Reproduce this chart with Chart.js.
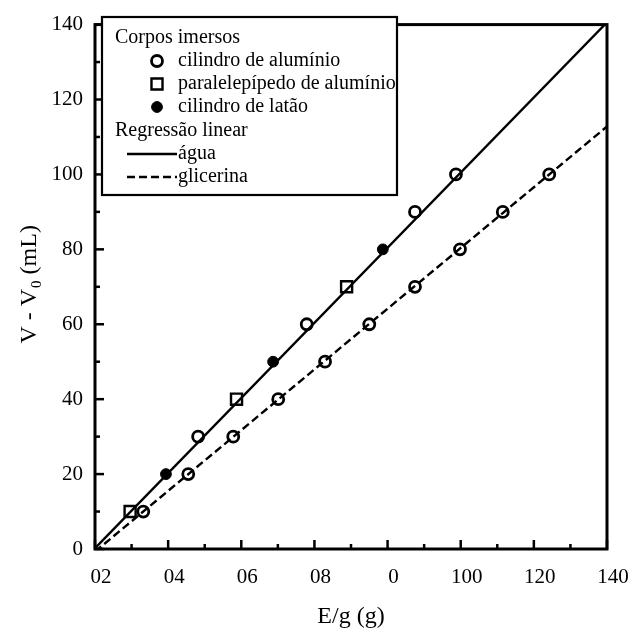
<!DOCTYPE html>
<html>
<head>
<meta charset="utf-8">
<script src="https://cdn.jsdelivr.net/npm/chart.js@4.4.1/dist/chart.umd.min.js"></script>
<style>
  html, body { margin: 0; padding: 0; background: #fff; }
  #chart { display: block; }
</style>
</head>
<body>
<canvas id="chart" width="639" height="636"></canvas>
<script>
// measured points, V - V0 in mL against E/g in g
const volumes = [10, 20, 30, 40, 50, 60, 70, 80, 90, 100];
const waterMass = [9.6, 19.4, 28.2, 38.7, 48.7, 57.9, 68.8, 78.7, 87.5, 98.7];
const waterBody = ['paral', 'latao', 'cil', 'paral', 'latao', 'cil', 'paral', 'latao', 'cil', 'cil'];
const glycerinMass = [13.2, 25.5, 37.8, 50.1, 62.9, 75.0, 87.5, 99.8, 111.5, 124.2];
const glycerinBody = ['cil', 'cil', 'cil', 'cil', 'cil', 'cil', 'cil', 'cil', 'cil', 'cil'];

// regression line ends
const fitMass = [0, 140];
const waterFit = [0.2, 140.6];
const glycerinFit = [-0.7, 112.8];

// axes (the x labels are printed like this in the original)
const xTickValues = [0, 20, 40, 60, 80, 100, 120, 140];
const xTickLabels = ['02', '04', '06', '08', '0', '100', '120', '140'];
const yTickValues = [0, 20, 40, 60, 80, 100, 120, 140];
const minorStep = 10;

const legendBodies = [
  ['cil', 'cilindro de alumínio'],
  ['paral', 'paralelepípedo de alumínio'],
  ['latao', 'cilindro de latão']
];
const legendFits = [
  ['água', []],
  ['glicerina', [8, 4]]
];

const FONT = "'Liberation Serif', 'Times New Roman', serif";

const bodyStyle = {
  cil: { pointStyle: 'circle', radius: 5.5, fill: 'rgba(0,0,0,0)', border: 2.8 },
  paral: { pointStyle: 'rect', radius: 7.8, fill: 'rgba(0,0,0,0)', border: 2.4 },
  latao: { pointStyle: 'circle', radius: 5.4, fill: '#000', border: 1 }
};

const toPoints = (xs, ys) => xs.map((x, i) => ({ x: x, y: ys[i] }));
const pick = (bodies, key) => bodies.map((b) => bodyStyle[b][key]);

const scatterSet = (xs, bodies) => ({
  type: 'scatter',
  data: toPoints(xs, volumes),
  pointStyle: pick(bodies, 'pointStyle'),
  pointRadius: pick(bodies, 'radius'),
  pointBackgroundColor: pick(bodies, 'fill'),
  pointBorderColor: '#000',
  pointBorderWidth: pick(bodies, 'border'),
  showLine: false,
  order: 0
});

const lineSet = (ys, dash) => ({
  type: 'line',
  data: toPoints(fitMass, ys),
  borderColor: '#000',
  borderWidth: 2.4,
  borderDash: dash,
  pointRadius: 0,
  fill: false,
  clip: 0,
  order: 1
});

function drawMarker(ctx, body, x, y) {
  const s = bodyStyle[body];
  ctx.save();
  ctx.lineWidth = s.border;
  ctx.strokeStyle = '#000';
  ctx.fillStyle = s.fill;
  ctx.beginPath();
  if (s.pointStyle === 'rect') {
    const h = s.radius * Math.SQRT1_2;
    ctx.rect(x - h, y - h, 2 * h, 2 * h);
  } else {
    ctx.arc(x, y, s.radius, 0, Math.PI * 2);
  }
  ctx.fill();
  ctx.stroke();
  ctx.restore();
}

const framePlugin = {
  id: 'frame',
  afterDraw(chart) {
    const { ctx, chartArea: a, scales } = chart;
    const xs = scales.x;
    const ys = scales.y;
    ctx.save();

    // inward tick marks on left and bottom
    ctx.strokeStyle = '#000';
    ctx.lineWidth = 2.5;
    for (let v = 0; v <= 140; v += minorStep) {
      const len = v % 20 === 0 ? 9 : 5;
      const px = xs.getPixelForValue(v);
      ctx.beginPath();
      ctx.moveTo(px, a.bottom);
      ctx.lineTo(px, a.bottom - len);
      ctx.stroke();
      const py = ys.getPixelForValue(v);
      ctx.beginPath();
      ctx.moveTo(a.left, py);
      ctx.lineTo(a.left + len, py);
      ctx.stroke();
    }

    ctx.lineWidth = 3;
    ctx.strokeRect(a.left, a.top, a.right - a.left, a.bottom - a.top);

    // axis titles
    ctx.fillStyle = '#000';
    ctx.font = '24px ' + FONT;
    ctx.textAlign = 'center';
    ctx.textBaseline = 'alphabetic';
    ctx.fillText('E/g (g)', (a.left + a.right) / 2, 623);

    ctx.save();
    ctx.translate(36, (a.top + a.bottom) / 2 - 2);
    ctx.rotate(-Math.PI / 2);
    ctx.textAlign = 'left';
    const partA = 'V - V';
    const partB = '0';
    const partC = ' (mL)';
    ctx.font = '24px ' + FONT;
    const wA = ctx.measureText(partA).width;
    const wC = ctx.measureText(partC).width;
    ctx.font = '15px ' + FONT;
    const wB = ctx.measureText(partB).width;
    let x0 = -(wA + wB + wC) / 2;
    ctx.font = '24px ' + FONT;
    ctx.fillText(partA, x0, 0);
    ctx.font = '15px ' + FONT;
    ctx.fillText(partB, x0 + wA + 1, 5);
    ctx.font = '24px ' + FONT;
    ctx.fillText(partC, x0 + wA + wB + 1, 0);
    ctx.restore();

    // legend box
    const lx = 102, ly = 17, lw = 295, lh = 178;
    ctx.fillStyle = '#fff';
    ctx.fillRect(lx, ly, lw, lh);
    ctx.lineWidth = 2.2;
    ctx.strokeRect(lx, ly, lw, lh);

    ctx.fillStyle = '#000';
    ctx.font = '20px ' + FONT;
    ctx.textAlign = 'left';
    ctx.textBaseline = 'middle';
    let rowY = 38;
    ctx.fillText('Corpos imersos', 115, rowY);
    legendBodies.forEach(([body, label]) => {
      rowY += 23;
      drawMarker(ctx, body, 157, rowY);
      ctx.fillStyle = '#000';
      ctx.fillText(label, 178, rowY);
    });
    rowY += 24;
    ctx.fillText('Regressão linear', 115, rowY);
    legendFits.forEach(([label, dash]) => {
      rowY += 23;
      ctx.save();
      ctx.lineWidth = 2.6;
      ctx.setLineDash(dash);
      ctx.beginPath();
      ctx.moveTo(127, rowY);
      ctx.lineTo(177, rowY);
      ctx.stroke();
      ctx.restore();
      ctx.fillText(label, 178, rowY);
    });

    ctx.restore();
  }
};

new Chart(document.getElementById('chart').getContext('2d'), {
  data: {
    datasets: [
      scatterSet(waterMass, waterBody),
      scatterSet(glycerinMass, glycerinBody),
      lineSet(waterFit, []),
      lineSet(glycerinFit, [8, 4])
    ]
  },
  options: {
    responsive: false,
    animation: false,
    layout: { padding: { top: 12, right: 32, left: 0, bottom: 0 } },
    plugins: {
      legend: { display: false },
      tooltip: { enabled: false }
    },
    scales: {
      x: {
        type: 'linear',
        min: 0,
        max: 140,
        afterBuildTicks: (scale) => { scale.ticks = xTickValues.map((v) => ({ value: v })); },
        afterFit: (scale) => { scale.height = 87; },
        grid: { display: false, drawTicks: false },
        border: { display: false },
        ticks: {
          autoSkip: false,
          maxRotation: 0,
          padding: 16,
          labelOffset: 6,
          color: '#000',
          font: { family: FONT, size: 21 },
          callback: (v, i) => xTickLabels[i]
        }
      },
      y: {
        type: 'linear',
        min: 0,
        max: 140,
        afterBuildTicks: (scale) => { scale.ticks = yTickValues.map((v) => ({ value: v })); },
        afterFit: (scale) => { scale.width = 95; },
        grid: { display: false, drawTicks: false },
        border: { display: false },
        ticks: {
          autoSkip: false,
          padding: 12,
          color: '#000',
          font: { family: FONT, size: 21 }
        }
      }
    }
  },
  plugins: [framePlugin]
});
</script>
</body>
</html>
